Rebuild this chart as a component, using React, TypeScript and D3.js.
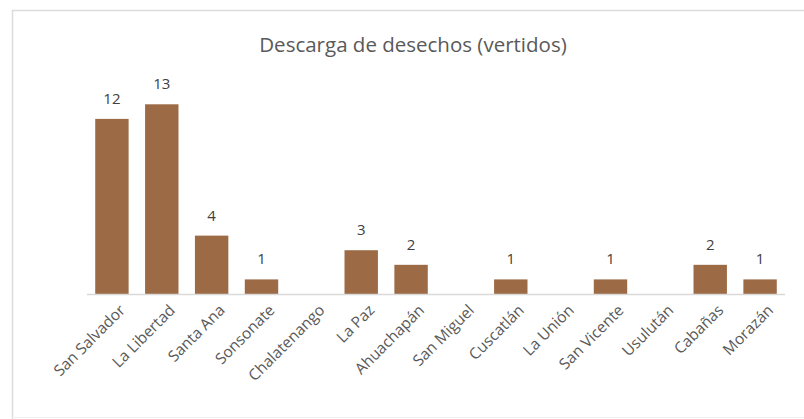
import React from "react";
import * as d3 from "d3";

const categories = [
  "San Salvador", "La Libertad", "Santa Ana", "Sonsonate", "Chalatenango", "La Paz",
  "Ahuachapán", "San Miguel", "Cuscatlán", "La Unión", "San Vicente", "Usulután",
  "Cabañas", "Morazán",
];
const values = [12, 13, 4, 1, 0, 3, 2, 0, 1, 0, 1, 0, 2, 1];
const title = "Descarga de desechos (vertidos)";

const W = 804;
const H = 419;

export default function App() {
  const x = d3.scaleBand<string>().domain(categories).range([87, 785]).paddingInner(0.33).paddingOuter(0.165);
  const y = d3.scaleLinear().domain([0, 13]).range([294, 104.3]);
  const font = "'Open Sans', sans-serif";
  return (
    <svg width={W} height={H} style={{ position: "absolute", left: 0, top: 0, overflow: "hidden" }}>
      <rect x={0} y={0} width={W} height={H} fill="#fff" />
      <line x1={12} x2={W} y1={10.5} y2={10.5} stroke="#dcdcdc" strokeWidth={1.5} />
      <line x1={12.5} x2={12.5} y1={10} y2={H} stroke="#dcdcdc" strokeWidth={1.5} />
      <line x1={12} x2={W} y1={417.5} y2={417.5} stroke="#f0f0f0" strokeWidth={1} />
      <text x={413} y={52} textAnchor="middle" fontFamily={font} fontSize={20.5} fill="#595959">
        {title}
      </text>
      {categories.map((c, i) => {
        const v = values[i];
        if (v <= 0) return null;
        return (
          <g key={c}>
            <rect x={x(c)} y={y(v)} width={x.bandwidth()} height={y(0) - y(v)} fill="#9c6a45" />
            <text x={(x(c) as number) + x.bandwidth() / 2} y={y(v) - 15} textAnchor="middle" fontFamily={font} fontSize={15} fill="#404040">
              {v}
            </text>
          </g>
        );
      })}
      <line x1={87} x2={785} y1={294.5} y2={294.5} stroke="#d9d9d9" strokeWidth={1.5} />
      {categories.map((c) => {
        const cx = (x(c) as number) + x.bandwidth() / 2;
        return (
          <text key={"l" + c} transform={`translate(${cx + 6},${303}) rotate(-45)`} textAnchor="end" dy="0.75em" fontFamily={font} fontSize={15.5} fill="#595959">
            {c}
          </text>
        );
      })}
    </svg>
  );
}
